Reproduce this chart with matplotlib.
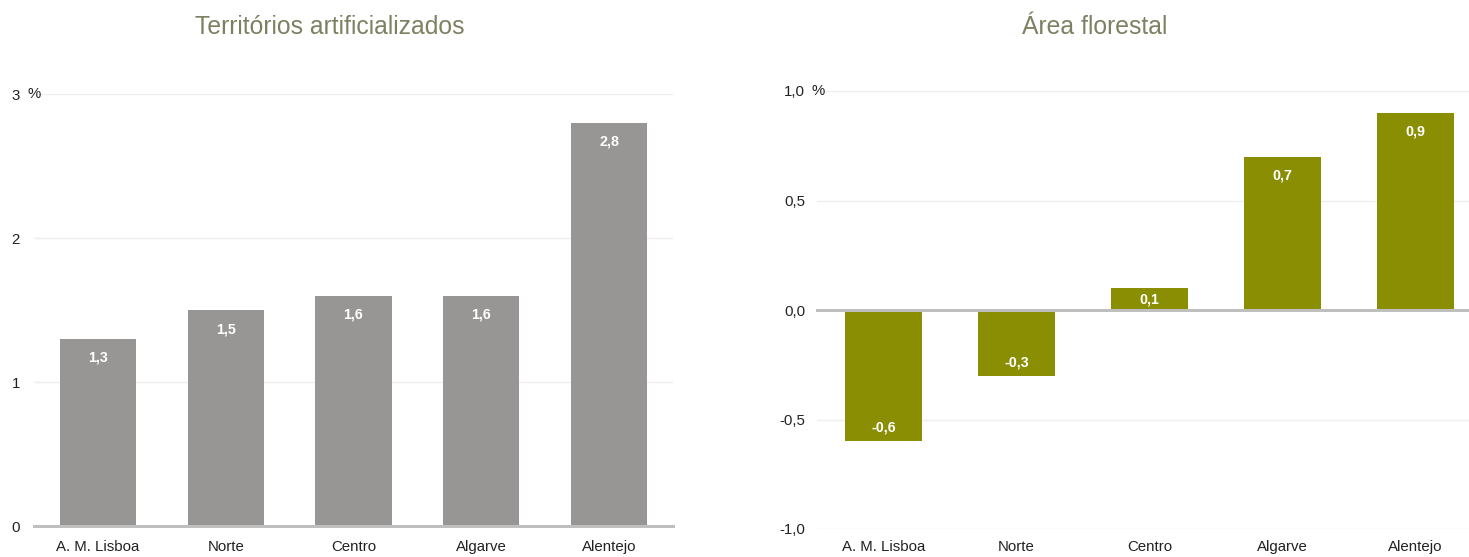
import matplotlib.pyplot as plt

regions = ["A. M. Lisboa", "Norte", "Centro", "Algarve", "Alentejo"]
artificial = [1.3, 1.5, 1.6, 1.6, 2.8]
regions_forest = ["A. M. Lisboa", "Norte", "Centro", "Algarve", "Alentejo"]
forest = [-0.6, -0.3, 0.1, 0.7, 0.9]

left_ticks = [0, 1, 2, 3]
left_ticklabels = ["0", "1", "2", "3"]
right_ticks = [-1.0, -0.5, 0.0, 0.5, 1.0]
right_ticklabels = ["-1,0", "-0,5", "0,0", "0,5", "1,0"]

GRAY = "#979694"
OLIVE = "#8a8e03"
TITLE_COLOR = "#7e8062"
TEXT = "#222222"

plt.rcParams["font.family"] = ["Liberation Sans", "DejaVu Sans"]

fig = plt.figure(figsize=(14.69, 5.57), dpi=100)
W, H = 1469, 557


def make_axes(x0, x1, ytop, ybot):
    return fig.add_axes([x0 / W, (H - ybot) / H, (x1 - x0) / W, (ybot - ytop) / H])


def style(ax):
    for s in ax.spines.values():
        s.set_visible(False)
    ax.tick_params(axis="both", length=0, labelsize=10.8, colors=TEXT)
    ax.set_axisbelow(True)
    ax.yaxis.grid(True, color="#eeeeee", linewidth=1)
    ax.xaxis.grid(False)


def fmt(v):
    return f"{v:.1f}".replace(".", ",")


def label_bars(ax, vals, px_per_unit):
    # value labels sit inside the bar, near its outer end
    for i, v in enumerate(vals):
        h_px = abs(v) * px_per_unit
        if v >= 0:
            dy = -min(19, h_px / 2)
        else:
            dy = min(13.5, h_px / 2)
        ax.annotate(fmt(v), (i, v), xytext=(0, dy * 0.72),
                    textcoords="offset points", ha="center", va="center",
                    color="white", fontsize=10.3, fontweight="bold")


# Left panel: artificial territories
ax1 = make_axes(34, 673, 94, 526)
style(ax1)
ax1.bar(range(len(regions)), artificial, width=0.595, color=GRAY, zorder=2)
ax1.set_xlim(-0.5, 4.5)
ax1.set_ylim(0, 3)
ax1.set_yticks(left_ticks)
ax1.set_yticklabels(left_ticklabels)
ax1.set_xticks(range(len(regions)))
ax1.set_xticklabels(regions)
ax1.tick_params(axis="y", pad=10)
ax1.tick_params(axis="x", pad=10)
ax1.axhline(0, color="#bfbfbf", linewidth=2.2, zorder=3, clip_on=False)
label_bars(ax1, artificial, 144)
fig.text(28 / W, 1 - 94 / H, "%", ha="left", va="center", fontsize=10.8, color=TEXT)
fig.text(330 / W, 1 - 27 / H, "Territórios artificializados", ha="center", va="center",
         fontsize=17.8, color=TITLE_COLOR)

# Right panel: forest area
ax2 = make_axes(817, 1469, 91, 529)
style(ax2)
ax2.bar(range(len(regions_forest)), forest, width=0.58, color=OLIVE, zorder=2)
ax2.set_xlim(-0.5, 4.402)
ax2.set_ylim(-1, 1)
ax2.set_yticks(right_ticks)
ax2.set_yticklabels(right_ticklabels)
ax2.set_xticks(range(len(regions_forest)))
ax2.set_xticklabels(regions_forest)
ax2.tick_params(axis="y", pad=8.6)
ax2.tick_params(axis="x", pad=8)
ax2.axhline(0, color="#bfbfbf", linewidth=2.2, zorder=3, clip_on=False)
label_bars(ax2, forest, 219)
fig.text(811 / W, 1 - 91 / H, "%", ha="left", va="center", fontsize=10.8, color=TEXT)
fig.text(1095 / W, 1 - 27 / H, "Área florestal", ha="center", va="center",
         fontsize=17.8, color=TITLE_COLOR)

fig.savefig("out.png", dpi=100)
